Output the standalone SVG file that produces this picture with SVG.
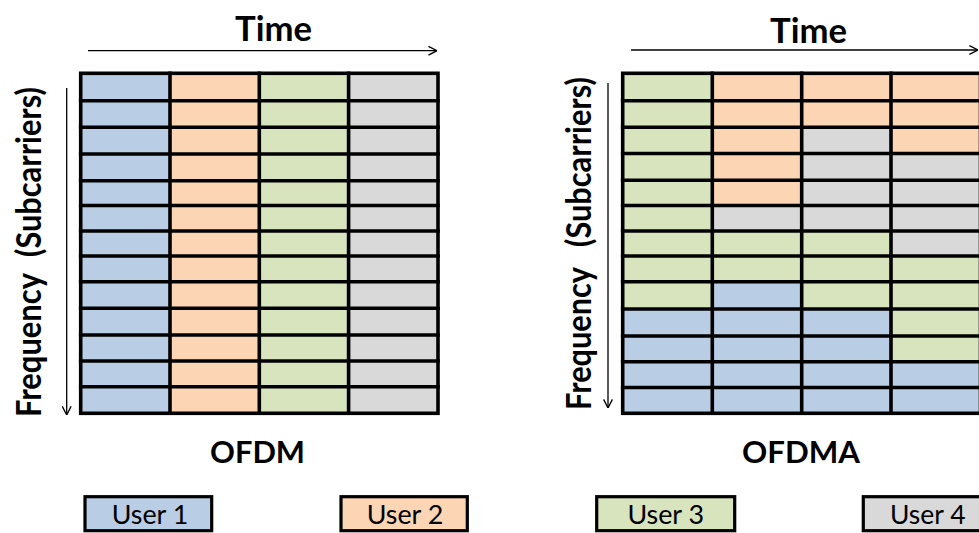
<svg xmlns="http://www.w3.org/2000/svg" width="979" height="533" viewBox="0 0 979 533">
  <style>
    .u1 { fill: #B9CDE5; }
    .u2 { fill: #FCD5B5; }
    .u3 { fill: #D7E4BD; }
    .u4 { fill: #D9D9D9; }
    .grid { fill: none; stroke: #000; stroke-width: 3.6; stroke-linecap: square; }
    .axis { fill: none; stroke: #000; stroke-width: 1.3; }
    .title { font-family: Lato, "Liberation Sans", sans-serif; font-weight: 700; fill: #000; }
    .label { font-family: Lato, "Liberation Sans", sans-serif; font-weight: 400; font-size: 26.5px; fill: #000; }
    .box { stroke: #000; stroke-width: 3.2; }
  </style>
  <defs>
    <marker id="open-arrow" viewBox="0 0 10 10" refX="9.6" refY="5" markerWidth="10" markerHeight="10" markerUnits="userSpaceOnUse" orient="auto">
      <path d="M1,0.6 L9.6,5 L1,9.4" fill="none" stroke="#000" stroke-width="1.3"/>
    </marker>
  </defs>

  <rect width="979" height="533" fill="#fff"/>

  <!-- axis arrows -->
  <g id="connectors">
    <line class="axis" x1="88" y1="50.7" x2="437" y2="50.7" marker-end="url(#open-arrow)"/>
    <line class="axis" x1="66.7" y1="88" x2="66.7" y2="415" marker-end="url(#open-arrow)"/>
    <line class="axis" x1="631" y1="50" x2="978" y2="50" marker-end="url(#open-arrow)"/>
    <line class="axis" x1="608" y1="83" x2="608" y2="408" marker-end="url(#open-arrow)"/>
  </g>

  <!-- axis titles -->
  <g id="axis-labels">
    <text class="title" font-size="35" x="235" y="40.7" textLength="77" lengthAdjust="spacingAndGlyphs">Time</text>
    <text class="title" font-size="35" x="770" y="43.3" textLength="77" lengthAdjust="spacingAndGlyphs">Time</text>
    <text class="title" font-size="34" transform="translate(40.5,417) rotate(-90)"><tspan x="0" textLength="144" lengthAdjust="spacingAndGlyphs">Frequency</tspan><tspan x="160" textLength="170" lengthAdjust="spacingAndGlyphs">(Subcarriers)</tspan></text>
    <text class="title" font-size="34" transform="translate(590.5,410) rotate(-90)"><tspan x="0" textLength="143" lengthAdjust="spacingAndGlyphs">Frequency</tspan><tspan x="163" textLength="170" lengthAdjust="spacingAndGlyphs">(Subcarriers)</tspan></text>
  </g>

  <!-- OFDM: every user holds all subcarriers for one time slot -->
  <g id="ofdm-grid">
    <rect class="u1" x="80.7" y="73.3" width="89.3" height="340"/>
    <rect class="u2" x="170" y="73.3" width="89.3" height="340"/>
    <rect class="u3" x="259.3" y="73.3" width="89.3" height="340"/>
    <rect class="u4" x="348.6" y="73.3" width="89.4" height="340"/>
    <path class="grid" d="M80.7,100.7H438M80.7,127.3H438M80.7,154H438M80.7,180.7H438M80.7,205.5H438M80.7,231H438M80.7,256H438M80.7,281.7H438M80.7,308.3H438M80.7,335H438M80.7,361H438M80.7,386.7H438M170,73.3V413.3M259.3,73.3V413.3M348.6,73.3V413.3"/>
    <rect class="grid" x="80.7" y="73.3" width="357.3" height="340"/>
  </g>

  <!-- OFDMA: subcarrier groups shared among users in each time slot -->
  <g id="ofdma-grid">
    <rect class="u3" x="622.7" y="73.3" width="89.6" height="235"/>
    <rect class="u1" x="622.7" y="308.3" width="89.6" height="105"/>

    <rect class="u2" x="712.3" y="73.3" width="89.4" height="132.2"/>
    <rect class="u4" x="712.3" y="205.5" width="89.4" height="25.5"/>
    <rect class="u3" x="712.3" y="231" width="89.4" height="50.7"/>
    <rect class="u1" x="712.3" y="281.7" width="89.4" height="131.6"/>

    <rect class="u2" x="801.7" y="73.3" width="89.3" height="54"/>
    <rect class="u4" x="801.7" y="127.3" width="89.3" height="103.7"/>
    <rect class="u3" x="801.7" y="231" width="89.3" height="77.3"/>
    <rect class="u1" x="801.7" y="308.3" width="89.3" height="105"/>

    <rect class="u2" x="891" y="73.3" width="89.5" height="80.7"/>
    <rect class="u4" x="891" y="154" width="89.5" height="102"/>
    <rect class="u3" x="891" y="256" width="89.5" height="105"/>
    <rect class="u1" x="891" y="361" width="89.5" height="52.3"/>

    <path class="grid" d="M622.7,100.7H980.5M622.7,127.3H980.5M622.7,153.5H980.5M622.7,180.3H980.5M622.7,205.5H980.5M622.7,231H980.5M622.7,256H980.5M622.7,281.7H980.5M622.7,309H980.5M622.7,336H980.5M622.7,361.7H980.5M622.7,387.5H980.5M712.3,73.3V413.3M801.7,73.3V413.3M891,73.3V413.3"/>
    <rect class="grid" x="622.7" y="73.3" width="357.8" height="340"/>
  </g>

  <!-- scheme names -->
  <g id="scheme-labels">
    <text class="title" font-size="29.5" x="210" y="463" textLength="95" lengthAdjust="spacingAndGlyphs">OFDM</text>
    <text class="title" font-size="29.5" x="742" y="463" textLength="118" lengthAdjust="spacingAndGlyphs">OFDMA</text>
  </g>

  <!-- legend -->
  <g id="legend-user1">
    <rect class="u1 box" x="85" y="496.7" width="126.7" height="34"/>
    <text class="label" x="111.7" y="524" textLength="76.6" lengthAdjust="spacingAndGlyphs">User 1</text>
  </g>
  <g id="legend-user2">
    <rect class="u2 box" x="341" y="496.7" width="126.3" height="34"/>
    <text class="label" x="366.7" y="524" textLength="76.6" lengthAdjust="spacingAndGlyphs">User 2</text>
  </g>
  <g id="legend-user3">
    <rect class="u3 box" x="596.7" y="496.7" width="138" height="34"/>
    <text class="label" x="627.4" y="524" textLength="76.6" lengthAdjust="spacingAndGlyphs">User 3</text>
  </g>
  <g id="legend-user4">
    <rect class="u4 box" x="863.3" y="496.7" width="130" height="34"/>
    <text class="label" x="890" y="524" textLength="75.5" lengthAdjust="spacingAndGlyphs">User 4</text>
  </g>
</svg>
